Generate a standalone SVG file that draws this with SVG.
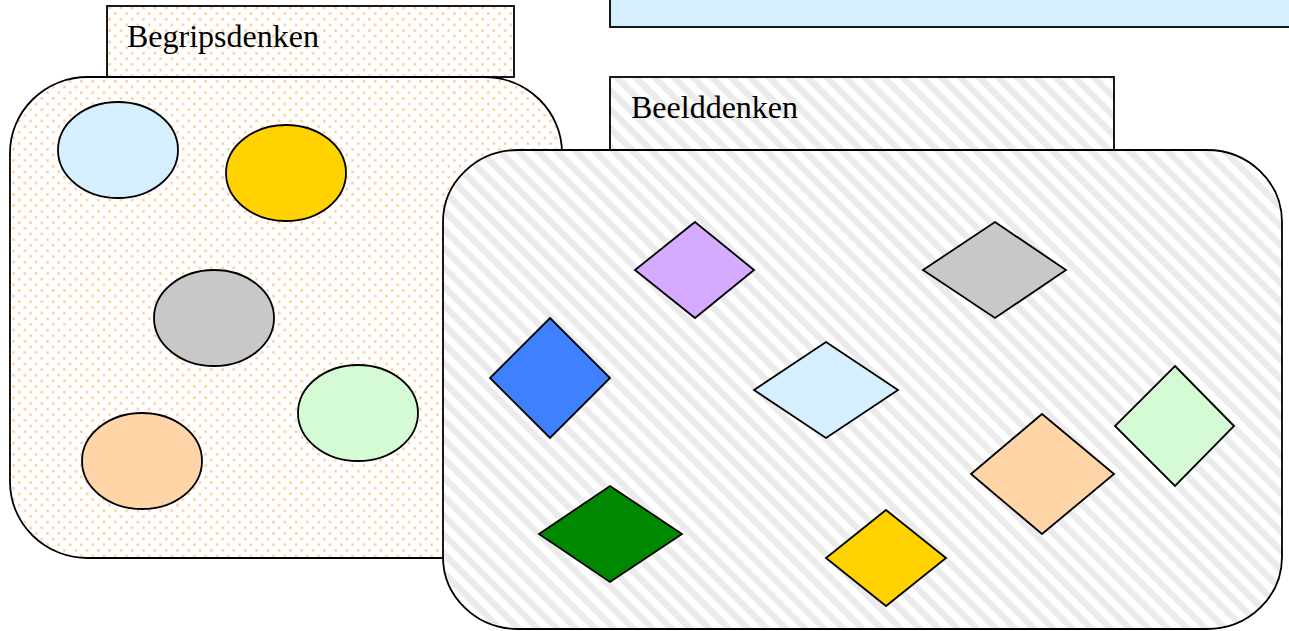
<svg xmlns="http://www.w3.org/2000/svg" width="1289" height="631" viewBox="0 0 1289 631">
<defs>
<style>
.s{stroke:#000;stroke-width:1.8}
.t{font-family:"Liberation Serif","Times New Roman",serif;font-size:32px;fill:#000}
</style>
<pattern id="dots" patternUnits="userSpaceOnUse" width="11.3" height="11.3">
<rect width="11.3" height="11.3" fill="#fff"/>
<rect x="1" y="1" width="2.6" height="2.6" fill="#ffcf9c"/>
<rect x="6.65" y="6.65" width="2.6" height="2.6" fill="#ffcf9c"/>
</pattern>
<pattern id="stripes" patternUnits="userSpaceOnUse" width="13.5" height="13.5" patternTransform="rotate(-45)">
<rect width="13.5" height="13.5" fill="#fff"/>
<rect width="6.5" height="13.5" fill="#ebebeb"/>
</pattern>
</defs>
<g id="topbox">
<rect class="s" x="610" y="-10" width="690" height="37" fill="#d5effe"/>
</g>
<g id="begripsdenken">
<rect class="s" x="107" y="6" width="407" height="71" fill="url(#dots)"/>
<text class="t" x="127" y="47">Begripsdenken</text>
<rect class="s" x="10" y="77" width="552" height="481" rx="78" ry="76" fill="url(#dots)"/>
</g>
<g id="ellipses" class="s">
<ellipse cx="118" cy="150" rx="60" ry="48" fill="#d5effe"/>
<ellipse cx="286" cy="173" rx="60" ry="48" fill="#ffd200"/>
<ellipse cx="214" cy="318" rx="60" ry="48" fill="#c8c8c8"/>
<ellipse cx="358" cy="413" rx="60" ry="48" fill="#d5fbd5"/>
<ellipse cx="142" cy="461" rx="60" ry="48" fill="#ffd5a8"/>
</g>
<g id="beelddenken">
<rect class="s" x="610" y="77" width="504" height="73" fill="url(#stripes)"/>
<text class="t" x="631" y="118">Beelddenken</text>
<rect class="s" x="443" y="150" width="839" height="479" rx="75" ry="72" fill="url(#stripes)"/>
</g>
<g id="diamonds" class="s">
<polygon points="695,222 754,270 695,318 635,270" fill="#d5aaff"/>
<polygon points="995,222 1066,270 995,318 923,270" fill="#c8c8c8"/>
<polygon points="550,318 610,378 550,438 490,378" fill="#4080ff"/>
<polygon points="826,342 898,390 826,438 754,390" fill="#d5effe"/>
<polygon points="1175,366 1234,426 1175,486 1115,426" fill="#d5fbd5"/>
<polygon points="1042,414 1114,474 1042,534 971,474" fill="#ffd5a8"/>
<polygon points="610,486 682,534 610,582 539,534" fill="#008800"/>
<polygon points="886,510 946,558 886,606 826,558" fill="#ffd200"/>
</g>
<g id="connectors"/>
</svg>
